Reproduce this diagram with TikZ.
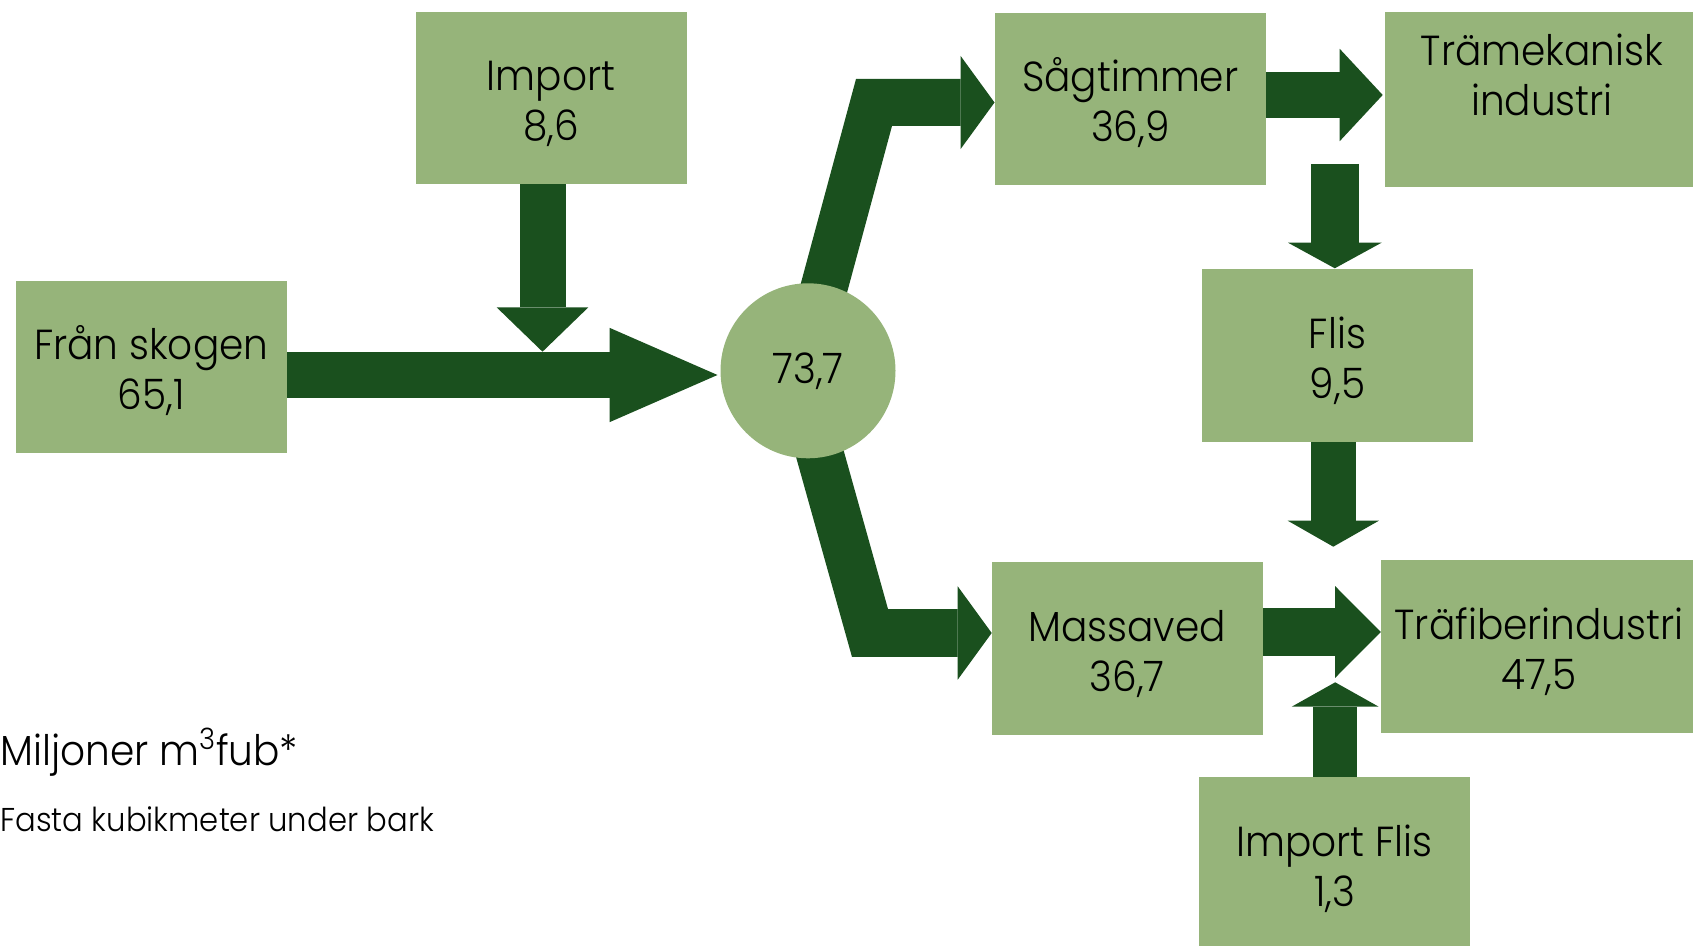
\documentclass[tikz,border=0pt]{standalone}
\usepackage{fontspec}
\setmainfont{Poppins}[UprightFont={* Light}, FakeStretch=0.93]
\usetikzlibrary{arrows.meta,calc}
\definecolor{boxgreen}{RGB}{150,180,122}
\definecolor{dkgreen}{RGB}{26,80,30}
\pgfdeclarelayer{bg}
\pgfsetlayers{bg,main}
\newcommand{\bs}{\rule{0pt}{21pt}}
\tikzset{
  box/.style={fill=boxgreen, inner sep=0pt, align=center, minimum width=135.5pt, minimum height=86.3pt,
    font=\fontsize{21}{25}\selectfont},
  widebox/.style={box, minimum width=158pt},
  hub/.style={circle, fill=boxgreen, inner sep=0pt, minimum size=87.5pt, font=\fontsize{21}{25}\selectfont},
  flow/.style n args={3}{draw=dkgreen, line width=#1, line join=miter,
    -{Triangle[length=#2, width=#3, line width=0pt, fill=dkgreen]}},
  legend/.style={inner sep=0pt, anchor=base west}
}
\begin{document}
\begin{tikzpicture}[x=0.5pt, y=-0.5pt]
\useasboundingbox (0,0) rectangle (1693,946);
\clip (0,0) rectangle (1693,946);

% nodes
\node[box] (skog) at (151.3,367) {\bs Från skogen\\65,1};
\node[box] (imp) at (551,97.9) {\bs Import\\8,6};
\node[hub] (circ) at (808,370.8) {73,7};
\node[box] (sag) at (1130.3,99) {\bs Sågtimmer\\36,9};
\node[widebox, minimum height=87.5pt] (tram) at (1543,99.2) {};
\node[inner sep=0pt, align=center, font=\fontsize{21}{25}\selectfont] (tramtext) at (1542,75) {Trämekanisk\\industri};
\node[box] (flis) at (1337.5,355.4) {\bs Flis\\9,5};
\node[box] (mass) at (1127.2,648.7) {\bs Massaved\\36,7};
\node[widebox, minimum height=86.7pt] (traf) at (1539,646.7) {\bs Träfiberindustri\\47,5};
\node[box] (impf) at (1334.5,863.7) {\bs Import Flis\\1,3};

% legend
\node[legend, font=\fontsize{21}{25}\selectfont] (unit) at (0,765) {Miljoner m\textsuperscript{3}fub*};
\node[legend, font=\fontsize{16.5}{19}\selectfont] (unitnote) at (0,831.7) {Fasta kubikmeter under bark};

% connector end points
\coordinate (a1s) at (287,375);
\coordinate (a1e) at (717.5,375);
\coordinate (a2s) at (542.5,184);
\coordinate (a2e) at (542.5,351.7);
\coordinate (upS) at (812.6,330);
\coordinate (upC) at (874,102.5);
\coordinate (upE) at (994.5,102.5);
\coordinate (loS) at (807.6,410);
\coordinate (loC) at (870,633);
\coordinate (loE) at (991.7,633);
\coordinate (a5s) at (1265.5,95);
\coordinate (a5e) at (1382.7,95);
\coordinate (a6s) at (1334.8,164);
\coordinate (a6e) at (1334.8,268.3);
\coordinate (a7s) at (1333.3,441.7);
\coordinate (a7e) at (1333.3,546.7);
\coordinate (a8s) at (1263,632);
\coordinate (a8e) at (1380.8,632);
\coordinate (a9s) at (1335.2,777.3);
\coordinate (a9e) at (1335.2,682.3);

\begin{pgfonlayer}{bg}
\draw[flow={23.3pt}{54pt}{47.2pt}] (a1s) -- (a1e);
\draw[flow={23pt}{22.2pt}{45.9pt}] (a2s) -- (a2e);
\draw[flow={23.5pt}{17pt}{46.7pt}] (upS) -- (upC) -- (upE);
\draw[flow={23.8pt}{17pt}{46.7pt}] (loS) -- (loC) -- (loE);
\draw[flow={23.3pt}{21.5pt}{46.2pt}] (a5s) -- (a5e);
\draw[flow={23.7pt}{12.8pt}{46.8pt}] (a6s) -- (a6e);
\draw[flow={22.2pt}{13pt}{45.6pt}] (a7s) -- (a7e);
\draw[flow={23.7pt}{22.8pt}{45.8pt}] (a8s) -- (a8e);
\draw[flow={22.2pt}{12.2pt}{43.5pt}] (a9s) -- (a9e);
\end{pgfonlayer}
\end{tikzpicture}
\end{document}
